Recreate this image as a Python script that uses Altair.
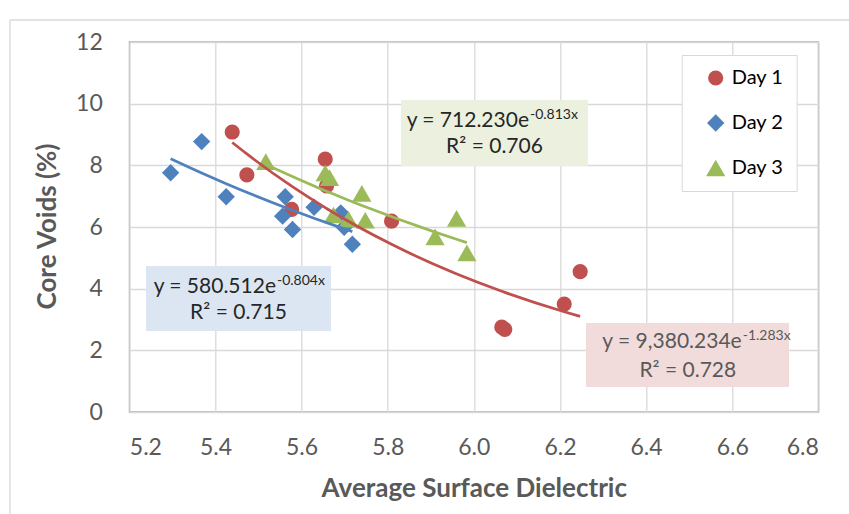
import altair as alt
import pandas as pd

# ---- data ----
days = ["Day 1", "Day 2", "Day 3"]
day1_x = [5.439, 5.473, 5.577, 5.655, 5.658, 5.809, 6.065, 6.072, 6.210, 6.247]
day1_y = [9.08, 7.69, 6.57, 8.20, 7.33, 6.19, 2.75, 2.68, 3.50, 4.55]
day2_x = [5.296, 5.368, 5.425, 5.556, 5.562, 5.579, 5.629, 5.691, 5.699, 5.718]
day2_y = [7.76, 8.77, 6.98, 6.35, 6.98, 5.92, 6.64, 6.46, 5.99, 5.44]
day3_x = [5.517, 5.655, 5.665, 5.674, 5.709, 5.740, 5.748, 5.910, 5.960, 5.984]
day3_y = [8.12, 7.75, 7.60, 6.39, 6.25, 7.09, 6.22, 5.68, 6.28, 5.16]

x_ticks = [5.2, 5.4, 5.6, 5.8, 6.0, 6.2, 6.4, 6.6, 6.8]
y_ticks = [0, 2, 4, 6, 8, 10, 12]

# exponential trendline coefficients as printed on the chart: y = a * e^(b x)
trend_a = [9380.234, 580.512, 712.230]
trend_b = [-1.283, -0.804, -0.813]

eq_main = ["y = 9,380.234e", "y = 580.512e", "y = 712.230e"]
eq_sup = ["-1.283x", "-0.804x", "-0.813x"]
eq_r2 = ["R² = 0.728", "R² = 0.715", "R² = 0.706"]

colors = ["#C0504D", "#4F81BD", "#9BBB59"]
shapes = ["circle", "diamond", "triangle-up"]
sizes = [230, 370, 370]

rows = []
for i, (d, xs, ys) in enumerate(zip(days, [day1_x, day2_x, day3_x], [day1_y, day2_y, day3_y])):
    for a, b in zip(xs, ys):
        rows.append({"day": d, "x": a, "y": b, "a": trend_a[i], "b": trend_b[i]})
df = pd.DataFrame(rows)

FONT = "Lato"
xs_ = alt.Scale(domain=[5.2, 6.8], nice=False, zero=False)
ys_ = alt.Scale(domain=[0, 12], nice=False)
x_axis = alt.Axis(values=x_ticks, format=".1f", title="Average Surface Dielectric",
                  labelPadding=24, titleY=76, titleBaseline="middle")
y_axis = alt.Axis(values=y_ticks, title="Core Voids (%)", labelPadding=27,
                  titleX=-82, titleY=184, titleBaseline="middle", titleAlign="center")
cscale = alt.Scale(domain=days, range=colors)

points = alt.Chart(df).mark_point(filled=True, opacity=1, strokeWidth=0).encode(
    x=alt.X("x:Q", scale=xs_, axis=x_axis),
    y=alt.Y("y:Q", scale=ys_, axis=y_axis),
    color=alt.Color("day:N", scale=cscale, legend=alt.Legend(title=None)),
    shape=alt.Shape("day:N", scale=alt.Scale(domain=days, range=shapes), legend=alt.Legend(title=None)),
    size=alt.Size("day:N", scale=alt.Scale(domain=days, range=sizes), legend=alt.Legend(title=None)),
    order=alt.Order("day:N"),
)

trend = alt.Chart(df).transform_calculate(
    fit="datum.a * exp(datum.b * datum.x)"
).mark_line(strokeWidth=2.75, interpolate="monotone").encode(
    x=alt.X("x:Q", scale=xs_, axis=x_axis),
    y=alt.Y("fit:Q", scale=ys_, axis=y_axis),
    color=alt.Color("day:N", scale=cscale, legend=None),
    order=alt.Order("x:Q"),
)

one = pd.DataFrame({"k": [0]})


def box(x1, x2, y1, y2, fill):
    return alt.Chart(one).mark_rect(fill=fill).encode(
        x=alt.value(x1), x2=alt.value(x2), y=alt.value(y1), y2=alt.value(y2))


def txt(s, x, y, size, align, color):
    return alt.Chart(one).mark_text(text=s, font=FONT, fontSize=size, align=align,
                                    baseline="middle", color=color).encode(
        x=alt.value(x), y=alt.value(y))


# annotation boxes (pixel layout, relative to plot origin)
ann = []
# Day 1 (red)
ann += [box(456.7, 659.7, 281, 345, "#F2DCDB"),
        txt(eq_main[0], 612.4, 300, 21, "right", "#595959"),
        txt(eq_sup[0], 613.4, 294, 14, "left", "#595959"),
        txt(eq_r2[0], 558.5, 328.5, 21, "center", "#595959")]
# Day 2 (blue)
ann += [box(16.7, 201.7, 224, 289, "#DCE6F2"),
        txt(eq_main[1], 146.7, 245, 21, "right", "#262626"),
        txt(eq_sup[1], 147.7, 239, 14, "left", "#262626"),
        txt(eq_r2[1], 109.2, 271, 21, "center", "#262626")]
# Day 3 (green)
ann += [box(271.7, 458.7, 58, 124, "#EBF1DE"),
        txt(eq_main[2], 399.7, 79, 21, "right", "#262626"),
        txt(eq_sup[2], 400.7, 73, 14, "left", "#262626"),
        txt(eq_r2[2], 365.2, 105, 21, "center", "#262626")]

# outer chart frame (decoration)
frame_top = alt.Chart(one).mark_rule(color="#d9d9d9", strokeWidth=1.3).encode(
    x=alt.value(-119.3), x2=alt.value(730), y=alt.value(-22))
frame_left = alt.Chart(one).mark_rule(color="#d9d9d9", strokeWidth=1.3).encode(
    x=alt.value(-119.3), y=alt.value(-22), y2=alt.value(480))

chart = alt.layer(frame_top, frame_left, points, trend, *ann).properties(
    width=689, height=370,
    autosize=alt.AutoSizeParams(type="none"),
    padding={"left": 129.3, "top": 42, "right": 30.7, "bottom": 102},
).configure_view(
    stroke="#7f7f7f", strokeWidth=1.3
).configure_axis(
    grid=True, gridColor="#d9d9d9", gridWidth=1.3, domain=False, ticks=False,
    labelFont=FONT, labelFontSize=23, labelColor="#595959",
    titleFont=FONT, titleFontSize=26, titleFontWeight="bold", titleColor="#595959",
).configure_legend(
    orient="none", legendX=552.4, legendY=13, fillColor="white", strokeColor="#d9d9d9",
    padding=13, rowPadding=25, labelFont=FONT, labelFontSize=20, labelColor="black",
    symbolOffset=11, labelOffset=6, symbolStrokeWidth=0,
)

chart.save("out.html", embed_options={"renderer": "svg", "actions": False})
